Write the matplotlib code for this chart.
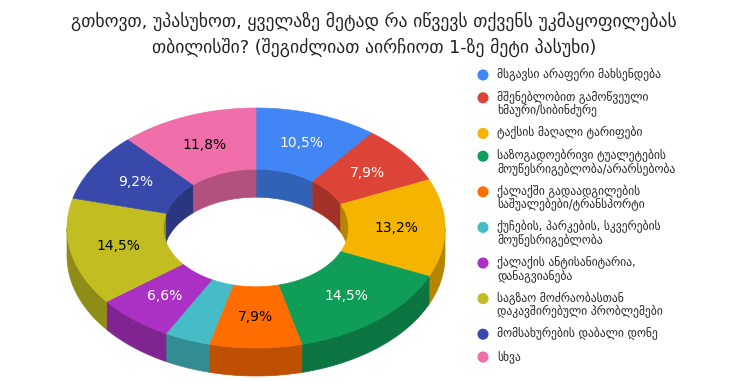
import matplotlib.pyplot as plt
import numpy as np
from matplotlib.patches import Polygon

title = ("გთხოვთ, უპასუხოთ, ყველაზე მეტად რა იწვევს თქვენს უკმაყოფილებას\n"
         "თბილისში? (შეგიძლიათ აირჩიოთ 1-ზე მეტი პასუხი)")

labels = [
    "მსგავსი არაფერი მახსენდება",
    "მშენებლობით გამოწვეული\nხმაური/სიბინძურე",
    "ტაქსის მაღალი ტარიფები",
    "საზოგადოებრივი ტუალეტების\nმოუწესრიგებლობა/არარსებობა",
    "ქალაქში გადაადგილების\nსაშუალებები/ტრანსპორტი",
    "ქუჩების, პარკების, სკვერების\nმოუწესრიგებლობა",
    "ქალაქის ანტისანიტარია,\nდანაგვიანება",
    "საგზაო მოძრაობასთან\nდაკავშირებული პრობლემები",
    "მომსახურების დაბალი დონე",
    "სხვა",
]
percents = [10.5, 7.9, 13.2, 14.5, 7.9, 3.9, 6.6, 14.5, 9.2, 11.8]
colors = ["#4285f4", "#db4437", "#f4b400", "#0f9d58", "#ff6d01",
          "#46bdc6", "#ab30c4", "#c2bd20", "#3949ab", "#f06eaa"]
text_colors = ["white", "white", "black", "white", "black",
               "black", "white", "black", "white", "black"]


def darker(c, f=0.74):
    r, g, b = [int(c[i:i + 2], 16) / 255 for i in (1, 3, 5)]
    return (r * f, g * f, b * f)


W, H = 748, 381
fig = plt.figure(figsize=(W / 100, H / 100), dpi=100)
ax = fig.add_axes([0, 0, 1, 1])
ax.set_xlim(0, W)
ax.set_ylim(H, 0)
ax.axis("off")

# donut geometry (pixels)
cx, cy = 256, 228
rx, ry = 189, 120
inner = 0.49
depth = 28


def arc(t0, t1, k, dz=0):
    t = np.linspace(t0, t1, max(2, int(abs(t1 - t0) * 60)))
    return np.column_stack([cx + rx * k * np.sin(t), cy - ry * k * np.cos(t) + dz])


fr = np.array(percents) / sum(percents)
ends = np.cumsum(fr) * 2 * np.pi
starts = ends - fr * 2 * np.pi

# outer wall (front half)
for s, e, c in zip(starts, ends, colors):
    a, b = max(s, np.pi / 2), min(e, 3 * np.pi / 2)
    if a < b:
        top = arc(a, b, 1)
        bot = arc(b, a, 1, depth)
        ax.add_patch(Polygon(np.vstack([top, bot]), closed=True,
                             facecolor=darker(c), edgecolor=darker(c), lw=0.5))

# inner wall (back half, seen through the hole)
for s, e, c in zip(starts, ends, colors):
    for lo, hi in ((0, np.pi / 2), (3 * np.pi / 2, 2 * np.pi)):
        a, b = max(s, lo), min(e, hi)
        if a < b:
            top = arc(a, b, inner)
            bot = arc(b, a, inner, depth)
            ax.add_patch(Polygon(np.vstack([top, bot]), closed=True,
                                 facecolor=darker(c), edgecolor=darker(c), lw=0.5))

# top face
for s, e, c, p, tc in zip(starts, ends, colors, percents, text_colors):
    poly = np.vstack([arc(s, e, 1), arc(e, s, inner)])
    ax.add_patch(Polygon(poly, closed=True, facecolor=c, edgecolor=c, lw=0.5))
    if p >= 5:
        m = (s + e) / 2
        k = (1 + inner) / 2
        ax.text(cx + rx * k * np.sin(m), cy - ry * k * np.cos(m),
                f"{p:.1f}%".replace(".", ","), ha="center", va="center",
                fontsize=10, color=tc)

fig.text(0.5, 1 - 34 / H, title, ha="center", va="center", fontsize=12.7,
         linespacing=1.45, color="#222222")

# legend
y = 75
for lab, c in zip(labels, colors):
    ax.scatter([483], [y], s=64, color=c, edgecolors="none")
    ax.text(497, y - 7, lab, ha="left", va="top", fontsize=8.3, color="#222222",
            linespacing=1.05)
    n = lab.count("\n") + 1
    y += 12.8 * n + 10

fig.savefig("out.png", dpi=100)
